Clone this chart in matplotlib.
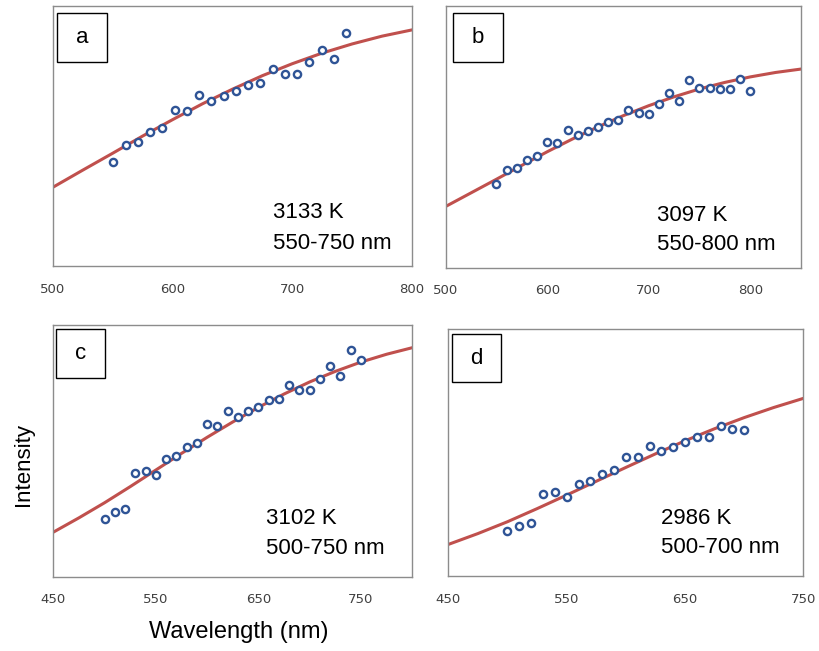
import numpy as np
import matplotlib.pyplot as plt
from matplotlib.patches import Rectangle

plt.rcParams['font.family'] = ['Liberation Sans', 'DejaVu Sans']

# measured points (relative intensity, axis bottom = 0, top = 1)
xa = [550, 561, 571, 581, 591, 602, 612, 622, 632, 643, 653, 663, 673, 684, 694, 704, 714, 725, 735, 745]
ya = [0.399, 0.465, 0.477, 0.514, 0.531, 0.601, 0.598, 0.657, 0.633, 0.653, 0.674, 0.697, 0.702, 0.757,
      0.739, 0.737, 0.783, 0.831, 0.796, 0.897]

xb = list(range(550, 801, 10))
yb = [0.319, 0.373, 0.382, 0.410, 0.428, 0.479, 0.478, 0.527, 0.507, 0.522, 0.539, 0.557, 0.564, 0.604,
      0.592, 0.588, 0.627, 0.666, 0.636, 0.717, 0.686, 0.686, 0.683, 0.682, 0.721, 0.674]

xc = list(range(500, 751, 10))
yc = [0.230, 0.258, 0.269, 0.412, 0.421, 0.403, 0.468, 0.481, 0.514, 0.532, 0.605, 0.600, 0.660, 0.636,
      0.657, 0.674, 0.702, 0.705, 0.762, 0.742, 0.740, 0.787, 0.836, 0.799, 0.901, 0.861]

xd = list(range(500, 701, 10))
yd = [0.184, 0.203, 0.215, 0.331, 0.339, 0.319, 0.373, 0.385, 0.412, 0.428, 0.482, 0.482, 0.528, 0.508,
      0.523, 0.542, 0.562, 0.565, 0.608, 0.595, 0.592]

# fitted curves (every 25 nm)
fxa = list(range(500, 801, 25))
fya = [0.303, 0.369, 0.434, 0.500, 0.563, 0.624, 0.680, 0.732, 0.778, 0.819, 0.854, 0.884, 0.908]
fxb = list(range(500, 851, 25))
fyb = [0.234, 0.286, 0.338, 0.391, 0.443, 0.492, 0.538, 0.581, 0.619, 0.653, 0.683, 0.708, 0.729,
       0.746, 0.759]
fxc = list(range(450, 801, 25))
fyc = [0.177, 0.234, 0.294, 0.358, 0.424, 0.490, 0.554, 0.615, 0.673, 0.726, 0.774, 0.816, 0.853,
       0.884, 0.910]
fxd = list(range(450, 751, 25))
fyd = [0.128, 0.172, 0.220, 0.273, 0.328, 0.384, 0.440, 0.495, 0.548, 0.597, 0.642, 0.683, 0.720]

labels = ['a', 'b', 'c', 'd']
temps = ['3133 K', '3097 K', '3102 K', '2986 K']
ranges = ['550-750 nm', '550-800 nm', '500-750 nm', '500-700 nm']
xlims = [(500, 800), (500, 850), (450, 800), (450, 750)]
xticks = [[500, 600, 700, 800], [500, 600, 700, 800], [450, 550, 650, 750], [450, 550, 650, 750]]

rects = [[0.0647, 0.5914, 0.4383, 0.3994],
         [0.5442, 0.5888, 0.4338, 0.4020],
         [0.0651, 0.1141, 0.4383, 0.3866],
         [0.5474, 0.1152, 0.4335, 0.3790]]
boxes = [(0.012, 0.7835, 0.1376, 0.1905), (0.0197, 0.786, 0.1407, 0.186),
         (0.0067, 0.791, 0.1373, 0.193), (0.0096, 0.785, 0.138, 0.196)]
txtpos = [(0.613, 0.204, 0.088), (0.596, 0.201, 0.089), (0.592, 0.232, 0.113), (0.598, 0.234, 0.116)]

pts = [(xa, ya), (xb, yb), (xc, yc), (xd, yd)]
fits = [(fxa, fya), (fxb, fyb), (fxc, fyc), (fxd, fyd)]

fig = plt.figure(figsize=(8.19, 6.51), dpi=100)
for i in range(4):
    ax = fig.add_axes(rects[i])
    ax.plot(fits[i][0], fits[i][1], color='#C0504D', lw=2.2, zorder=2, solid_joinstyle='round')
    ax.plot(pts[i][0], pts[i][1], 'o', ms=5.2, mfc='white', mec='#2F5496', mew=1.7, zorder=3)
    ax.set_xlim(*xlims[i])
    ax.set_ylim(0, 1)
    ax.set_xticks(xticks[i])
    ax.set_yticks([])
    ax.tick_params(axis='x', length=0, pad=12, labelsize=9.5, labelcolor='#404040')
    for lab in ax.get_xticklabels():
        lab.set_family('DejaVu Sans')
    for s in ax.spines.values():
        s.set_color('#8c8c8c')
        s.set_linewidth(1)
    bx, by, bw, bh = boxes[i]
    ax.add_patch(Rectangle((bx, by), bw, bh, transform=ax.transAxes, fill=True, fc='white',
                           ec='black', lw=1, zorder=4))
    ax.text(bx + bw / 2, by + bh / 2, labels[i], transform=ax.transAxes, ha='center', va='center',
            fontsize=16, zorder=5)
    tx, t1, t2 = txtpos[i]
    ax.text(tx, t1, temps[i], transform=ax.transAxes, ha='left', va='center', fontsize=16)
    ax.text(tx, t2, ranges[i], transform=ax.transAxes, ha='left', va='center', fontsize=16)

fig.text(239 / 819, 1 - 632 / 651, 'Wavelength (nm)', ha='center', va='center', fontsize=17)
fig.text(23 / 819, 1 - 465 / 651, 'Intensity', ha='center', va='center', rotation=90, fontsize=16)

fig.savefig('out.png', dpi=100)
